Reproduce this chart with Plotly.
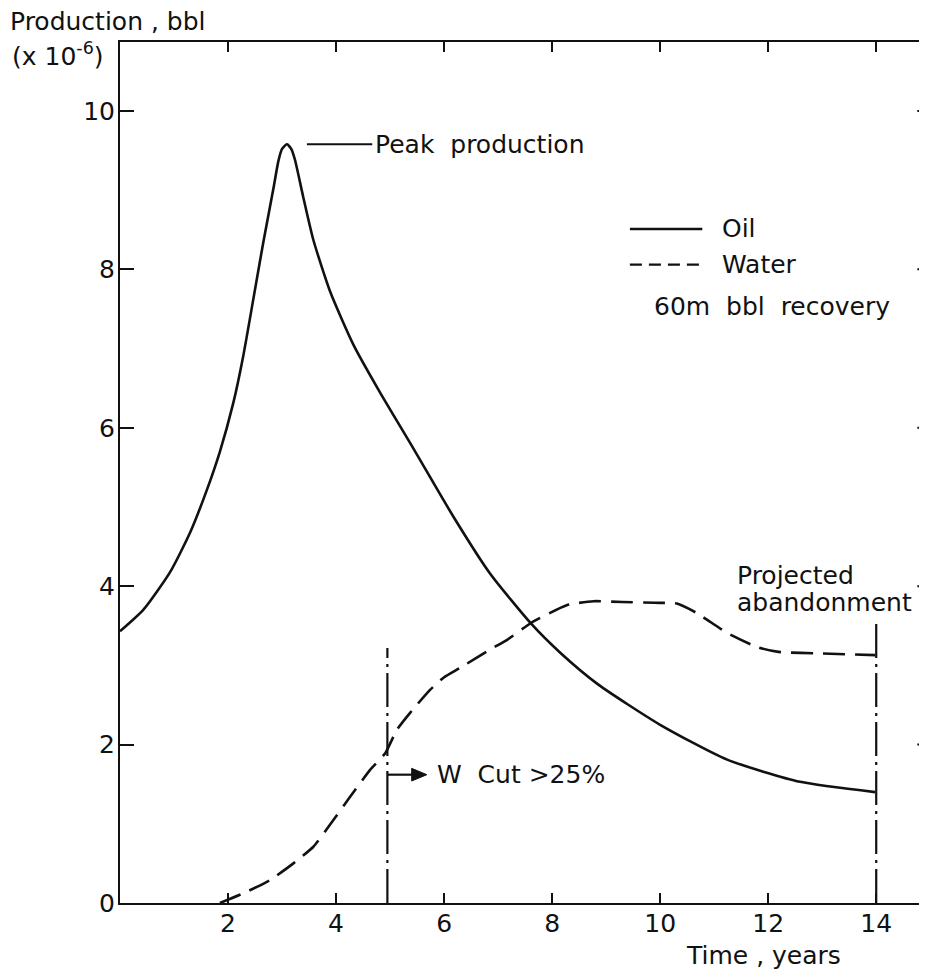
import plotly.graph_objects as go

# ---- data ----
oil_years = [0, 0.43, 0.93, 1.30, 1.60, 1.85, 2.10, 2.28, 2.47, 2.65, 2.84, 2.93, 3.00, 3.09,
             3.17, 3.24, 3.39, 3.58, 3.89, 4.32, 4.81, 5.43, 6.17, 6.85, 7.62, 8.15, 8.85,
             10.0, 11.24, 12.59, 13.98]
oil_prod = [3.43, 3.70, 4.18, 4.68, 5.20, 5.70, 6.32, 6.90, 7.63, 8.33, 9.02, 9.36, 9.52, 9.58,
            9.52, 9.38, 8.92, 8.37, 7.72, 7.05, 6.45, 5.74, 4.88, 4.16, 3.52, 3.16, 2.76,
            2.25, 1.81, 1.53, 1.40]

water_years = [1.85, 2.34, 2.78, 3.21, 3.58, 3.89, 4.26, 4.63, 4.91, 5.12, 5.37, 5.74, 6.0,
               6.3, 6.85, 7.16, 7.62, 8.27, 8.77, 9.3, 9.9, 10.31, 10.68, 11.24, 11.8, 12.19,
               13.0, 13.98]
water_prod = [0, 0.14, 0.29, 0.50, 0.71, 0.99, 1.34, 1.68, 1.89, 2.18, 2.40, 2.69, 2.85,
              2.97, 3.2, 3.32, 3.54, 3.76, 3.81, 3.80, 3.79, 3.78, 3.66, 3.41, 3.23, 3.17,
              3.15, 3.13]

wcut_year = 4.95
wcut_marker_top = 3.22
abandon_year = 14.0
abandon_marker_top = 3.54
peak_value = 9.58

x_ticks = [2, 4, 6, 8, 10, 12, 14]
y_ticks = [0, 2, 4, 6, 8, 10]

FONT = "DejaVu Sans"
BLACK = "#111111"
TXT = dict(size=25, family=FONT, color=BLACK)

fig = go.Figure()

fig.add_trace(go.Scatter(x=oil_years, y=oil_prod, mode="lines", name="Oil",
                         line=dict(color=BLACK, width=2.6, shape="spline", smoothing=0.6),
                         showlegend=False))
fig.add_trace(go.Scatter(x=water_years, y=water_prod, mode="lines", name="Water",
                         line=dict(color=BLACK, width=2.6, shape="spline", smoothing=0.5,
                                   dash="22px,10px"),
                         showlegend=False))
# vertical dash-dot markers
for xv, top in [(wcut_year, wcut_marker_top), (abandon_year, abandon_marker_top)]:
    fig.add_trace(go.Scatter(x=[xv, xv], y=[0, top], mode="lines", showlegend=False,
                             line=dict(color=BLACK, width=2.2, dash="34px,6px,3px,6px")))

shapes = []
annotations = []

# right-side inward y ticks (right axis lies just beyond the picture edge)
for yv in y_ticks[1:]:
    shapes.append(dict(type="line", xref="x domain", yref="y", x0=0.988, x1=1.0, y0=yv, y1=yv,
                       line=dict(color=BLACK, width=2)))

# legend samples
shapes.append(dict(type="line", xref="x", yref="y", x0=9.44, x1=10.78, y0=8.51, y1=8.51,
                   line=dict(color=BLACK, width=2.4)))
shapes.append(dict(type="line", xref="x", yref="y", x0=9.44, x1=10.78, y0=8.06, y1=8.06,
                   line=dict(color=BLACK, width=2.4, dash="12px,7px")))
annotations.append(dict(x=11.1, y=8.51, xref="x", yref="y", text="Oil", showarrow=False,
                        xanchor="left", yanchor="middle", font=TXT))
annotations.append(dict(x=11.1, y=8.06, xref="x", yref="y", text="Water", showarrow=False,
                        xanchor="left", yanchor="middle", font=TXT))
annotations.append(dict(x=9.85, y=7.53, xref="x", yref="y", text="60m  bbl  recovery", showarrow=False,
                        xanchor="left", yanchor="middle", font=TXT))

# peak production leader
shapes.append(dict(type="line", xref="x", yref="y", x0=3.46, x1=4.67, y0=peak_value, y1=peak_value,
                   line=dict(color=BLACK, width=2)))
annotations.append(dict(x=4.69, y=peak_value, xref="x", yref="y", text="Peak  production",
                        showarrow=False, xanchor="left", yanchor="middle", font=TXT))

# W cut arrow
shapes.append(dict(type="line", xref="x", yref="y", x0=wcut_year, x1=5.5, y0=1.62, y1=1.62,
                   line=dict(color=BLACK, width=2.2)))
shapes.append(dict(type="path", xref="x", yref="y",
                   path="M 5.40 1.70 L 5.68 1.62 L 5.40 1.54 Z",
                   fillcolor=BLACK, line=dict(color=BLACK, width=1)))
annotations.append(dict(x=5.83, y=1.62, xref="x", yref="y", text="W  Cut >25%", showarrow=False,
                        xanchor="left", yanchor="middle", font=TXT))

# projected abandonment
annotations.append(dict(x=11.39, y=4.14, xref="x", yref="y", text="Projected", showarrow=False,
                        xanchor="left", yanchor="middle", font=TXT))
annotations.append(dict(x=11.39, y=3.80, xref="x", yref="y", text="abandonment", showarrow=False,
                        xanchor="left", yanchor="middle", font=TXT))

# page has an 8px body margin: figure is shifted so the plot lands where the reference has it
PLOT_L, PLOT_T, PLOT_B = 120, 42, 903   # page pixels of the plot area
plot_w = 927 - PLOT_L
plot_h = PLOT_B - PLOT_T

def px_to_paper(px, py):
    return (px - PLOT_L) / plot_w, (PLOT_B - py) / plot_h

tx, ty = px_to_paper(763, 955)
annotations.append(dict(x=tx, y=ty, xref="paper", yref="paper", text="Time , years", showarrow=False,
                        xanchor="center", yanchor="middle", font=TXT))
tx, ty = px_to_paper(8, 22)
annotations.append(dict(x=tx, y=ty, xref="paper", yref="paper", text="Production , bbl", showarrow=False,
                        xanchor="left", yanchor="middle", font=TXT))
tx, ty = px_to_paper(10, 55)
annotations.append(dict(x=tx, y=ty, xref="paper", yref="paper", text="(x 10<sup>-6</sup>)", showarrow=False,
                        xanchor="left", yanchor="middle", font=TXT))

fig.update_layout(
    width=919, height=968,
    margin=dict(l=112, r=0, t=34, b=73, pad=0),
    paper_bgcolor="white", plot_bgcolor="white",
    font=dict(family=FONT, size=25, color=BLACK),
    shapes=shapes,
    annotations=annotations,
    xaxis=dict(range=[0, 14.94], tickvals=x_ticks, ticktext=[str(v) for v in x_ticks],
               ticks="inside", ticklen=10, tickwidth=2, tickcolor=BLACK,
               showline=True, linecolor=BLACK, linewidth=2, mirror="ticks",
               showgrid=False, zeroline=False, tickfont=dict(size=25, family=FONT),
               ticklabelstandoff=-3),
    yaxis=dict(range=[0, 10.87], tickvals=y_ticks, ticktext=[str(v) for v in y_ticks],
               ticks="inside", ticklen=14, tickwidth=2, tickcolor=BLACK,
               showline=True, linecolor=BLACK, linewidth=2, mirror=False,
               showgrid=False, zeroline=False, tickfont=dict(size=25, family=FONT),
               ticklabelstandoff=-2),
)

fig.write_html("out.html")
